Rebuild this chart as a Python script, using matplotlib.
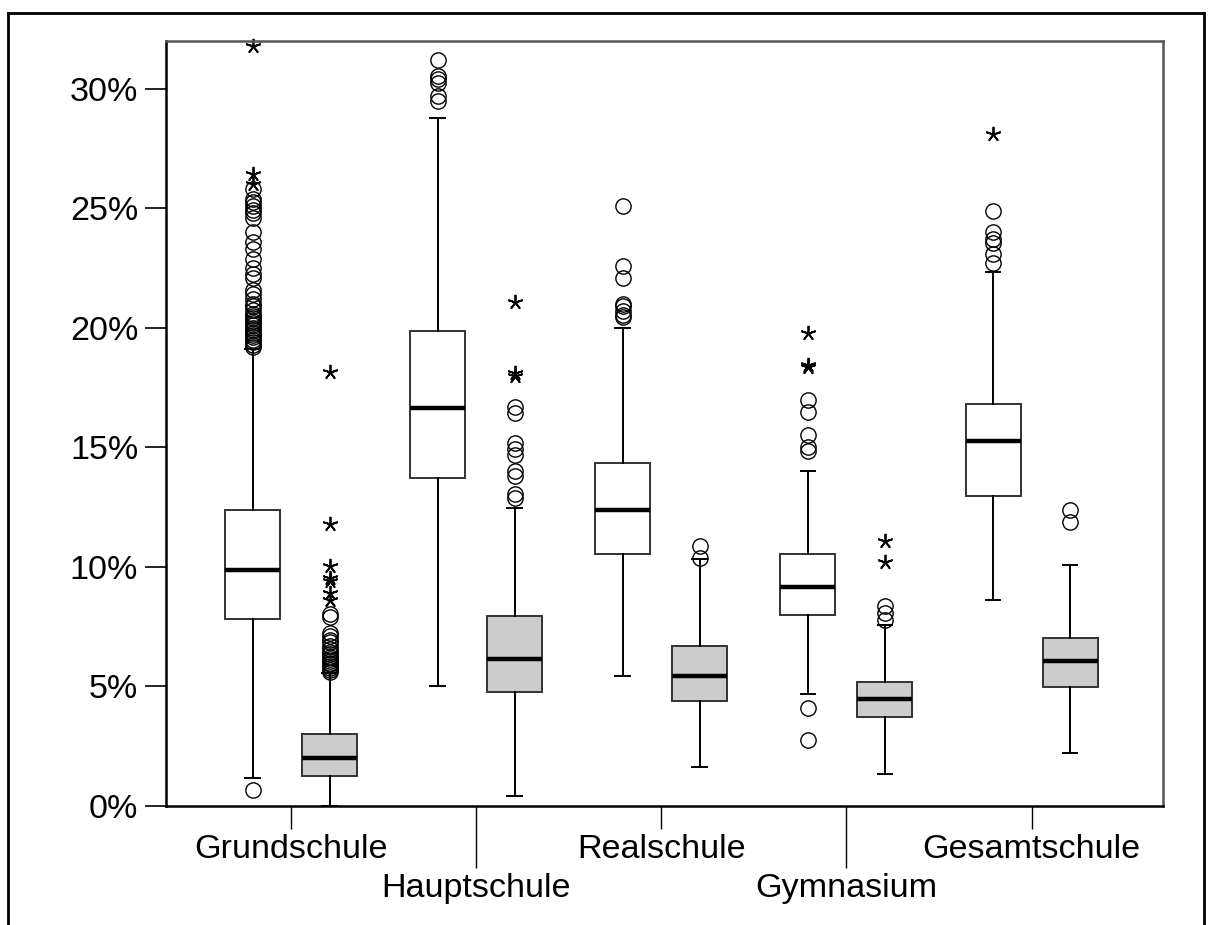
import numpy as np
import matplotlib.pyplot as plt
from matplotlib.lines import Line2D
from matplotlib.ticker import FixedLocator, FixedFormatter

plt.rcParams['font.family'] = ['Liberation Sans', 'DejaVu Sans']

schools = ["Grundschule", "Hauptschule", "Realschule", "Gymnasium", "Gesamtschule"]

# first box of each school (white)
w_lo = [1.17, 5.0, 5.43, 4.7, 8.62]
w_q1 = [7.81, 13.72, 10.53, 7.98, 12.95]
w_med = [9.86, 16.63, 12.37, 9.15, 15.26]
w_q3 = [12.37, 19.88, 14.33, 10.53, 16.8]
w_hi = [19.1, 28.8, 20.0, 14.0, 22.33]
w_circ = [
    [0.67, 19.2, 19.3, 19.4, 19.5, 19.6, 19.7, 19.8, 19.9, 20.0, 20.1, 20.2, 20.3,
     20.4, 20.5, 20.6, 20.75, 20.9, 21.0, 21.2, 21.4, 21.6, 22.1, 22.25, 22.5,
     22.9, 23.3, 23.6, 24.0, 24.6, 24.8, 24.95, 25.1, 25.25, 25.4, 25.8],
    [29.5, 29.7, 30.25, 30.4, 30.55, 31.2],
    [20.45, 20.55, 20.7, 20.9, 21.0, 22.1, 22.6, 25.1],
    [2.75, 4.1, 14.85, 15.0, 15.5, 16.5, 16.97],
    [22.7, 23.1, 23.55, 23.7, 24.0, 24.9],
]
w_star = [
    [26.0, 26.45, 31.8],
    [],
    [],
    [18.35, 18.43, 19.78],
    [28.1],
]

# second box of each school (grey)
g_lo = [0.0, 0.42, 1.63, 1.34, 2.21]
g_q1 = [1.25, 4.76, 4.39, 3.72, 4.97]
g_med = [2.0, 6.14, 5.43, 4.47, 6.06]
g_q3 = [3.0, 7.94, 6.7, 5.18, 7.02]
g_hi = [5.56, 12.45, 10.33, 7.56, 10.07]
g_circ = [
    [5.62, 5.7, 5.78, 5.85, 5.93, 6.0, 6.08, 6.15, 6.25, 6.35, 6.45, 6.55, 6.7,
     6.85, 6.95, 7.1, 7.25, 7.9, 8.05],
    [12.9, 13.05, 13.8, 14.0, 14.7, 14.95, 15.2, 16.45, 16.7],
    [10.37, 10.88],
    [7.78, 8.06, 8.35],
    [11.88, 12.4],
]
g_star = [
    [8.6, 8.9, 9.4, 9.55, 10.05, 11.8, 18.15],
    [17.97, 18.1, 21.1],
    [],
    [10.2, 11.07],
    [],
]

off = 0.208
width = 0.297

fig = plt.figure(figsize=(12.14, 9.25), dpi=100)
ax = fig.add_axes([166 / 1214, 1 - 806 / 925, (1163 - 166) / 1214, (806 - 41) / 925])

x = np.arange(len(schools))


def stats(lo, q1, med, q3, hi):
    return [dict(whislo=lo[i], q1=q1[i], med=med[i], q3=q3[i], whishi=hi[i], fliers=[])
            for i in range(len(lo))]


box_kw = dict(widths=width, capwidths=0.08, showfliers=False, patch_artist=True,
              medianprops=dict(color='black', linewidth=3.2, solid_capstyle='butt'),
              whiskerprops=dict(color='black', linewidth=1.4),
              capprops=dict(color='black', linewidth=1.4))

ax.bxp(stats(w_lo, w_q1, w_med, w_q3, w_hi), positions=x - off,
       boxprops=dict(facecolor='white', edgecolor='#333333', linewidth=1.4), **box_kw)
ax.bxp(stats(g_lo, g_q1, g_med, g_q3, g_hi), positions=x + off,
       boxprops=dict(facecolor='#cccccc', edgecolor='#333333', linewidth=1.4), **box_kw)

for pos, circ, star in [(x - off, w_circ, w_star), (x + off, g_circ, g_star)]:
    for i in range(len(schools)):
        if circ[i]:
            ax.plot([pos[i]] * len(circ[i]), circ[i], linestyle='none', marker='o',
                    markersize=11, markerfacecolor='none', markeredgecolor='black',
                    markeredgewidth=1.0, clip_on=False)
        if star[i]:
            ax.plot([pos[i]] * len(star[i]), star[i], linestyle='none', marker=(5, 2, 0),
                    markersize=11, markeredgecolor='black', markeredgewidth=1.3,
                    clip_on=False)

ax.set_xlim(-0.676, 4.71)
ax.set_ylim(0, 32)

ax.set_yticks([0, 5, 10, 15, 20, 25, 30])
ax.set_yticklabels([f"{v}%" for v in [0, 5, 10, 15, 20, 25, 30]], fontsize=24.6)
ax.tick_params(axis='y', length=15, width=1.2, pad=5, direction='out')

ax.xaxis.set_major_locator(FixedLocator([0, 2, 4]))
ax.xaxis.set_major_formatter(FixedFormatter([schools[0], schools[2], schools[4]]))
ax.xaxis.set_minor_locator(FixedLocator([1, 3]))
ax.xaxis.set_minor_formatter(FixedFormatter([schools[1], schools[3]]))
ax.tick_params(axis='x', which='major', length=16.5, width=1.0, pad=4, labelsize=24.6)
ax.tick_params(axis='x', which='minor', length=44.6, width=1.0, pad=4, labelsize=24.6)

for s in ['left', 'bottom']:
    ax.spines[s].set_linewidth(1.8)
    ax.spines[s].set_color('black')
for s in ['top', 'right']:
    ax.spines[s].set_linewidth(1.8)
    ax.spines[s].set_color('#555555')

# outer frame (bottom edge not shown)
xl, xr, yt = 8 / 1214, 1204 / 1214, 1 - 13 / 925
for xs, ys in [([xl, xl], [0, yt]), ([xr, xr], [0, yt]), ([xl, xr], [yt, yt])]:
    fig.add_artist(Line2D(xs, ys, transform=fig.transFigure, color='black', linewidth=2))

fig.savefig("out.png", dpi=100)
